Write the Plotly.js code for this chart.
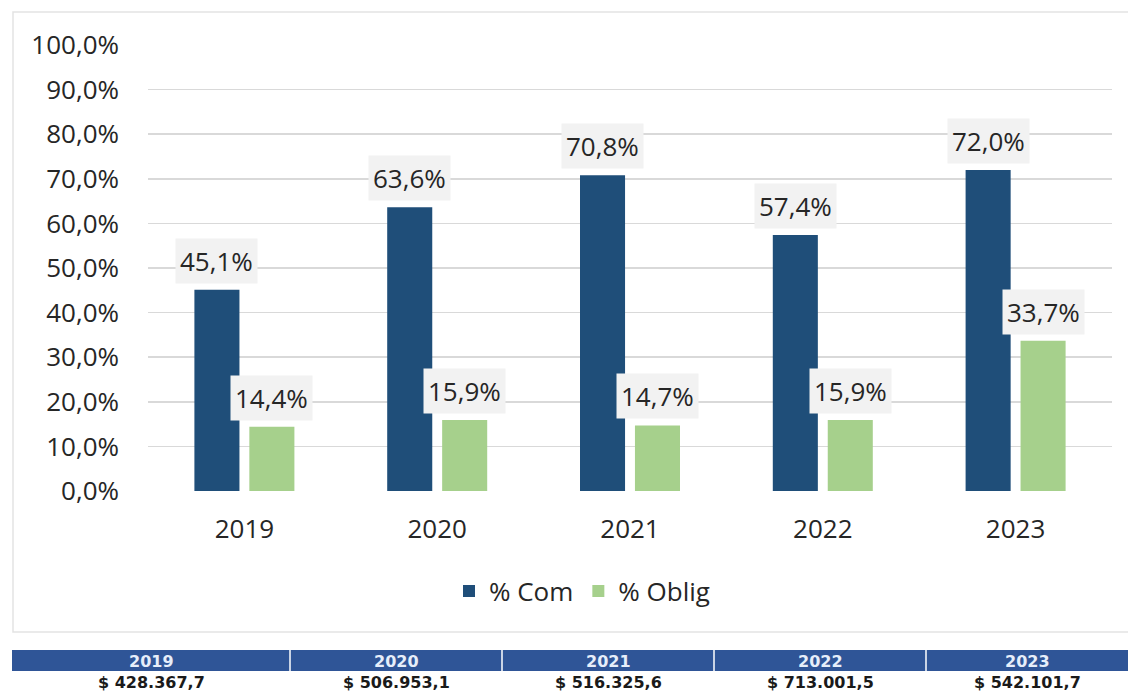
<!DOCTYPE html>
<html>
<head>
<meta charset="utf-8">
<script src="https://cdn.plot.ly/plotly-3.0.1.min.js"></script>
<style>html,body{margin:0;padding:0;background:#fff;}#chart{width:1128px;height:692px;}</style>
</head>
<body>
<div id="chart"></div>
<script>
const years = ['2019', '2020', '2021', '2022', '2023'];
const pctCom = [45.1, 63.6, 70.8, 57.4, 72.0];
const pctOblig = [14.4, 15.9, 14.7, 15.9, 33.7];
const seriesNames = ['% Com', '% Oblig'];
const amounts = ['$ 428.367,7', '$ 506.953,1', '$ 516.325,6', '$ 713.001,5', '$ 542.101,7'];
const yTickVals = [0, 10, 20, 30, 40, 50, 60, 70, 80, 90, 100];

const W = 1128, H = 692;
const fmt = v => v.toFixed(1).replace('.', ',') + '%';
const FONT = 'Open Sans, Noto Sans, sans-serif';
const TFONT = 'DejaVu Sans, Open Sans, sans-serif';
const px = x => x / W, py = y => 1 - y / H;

const traces = [
  { type: 'bar', name: seriesNames[0], x: years, y: pctCom,
    marker: { color: '#1F4E79' }, hoverinfo: 'skip' },
  { type: 'bar', name: seriesNames[1], x: years, y: pctOblig,
    marker: { color: '#A6D08C' }, hoverinfo: 'skip' }
];

const annotations = [];
years.forEach((yr, i) => {
  [[pctCom[i], -27.5], [pctOblig[i], 27.5]].forEach(([v, dx]) => {
    annotations.push({
      x: i, y: v, xref: 'x', yref: 'y', text: fmt(v), showarrow: false,
      xanchor: 'center', yanchor: 'middle',
      xshift: dx, yshift: 29, bgcolor: '#F2F2F2', borderpad: 4,
      font: { size: 26, color: '#262626', family: FONT }
    });
  });
});

// summary table under the chart
const colEdges = [12, 290, 502, 714, 926, 1128];
const shapes = [
  { type: 'rect', xref: 'paper', yref: 'paper', x0: px(13), x1: 1.01, y0: py(632), y1: py(12),
    line: { color: '#E3E3E3', width: 1.5 }, fillcolor: 'rgba(0,0,0,0)', layer: 'below' },
  { type: 'rect', xref: 'paper', yref: 'paper', x0: px(colEdges[0]), x1: 1, y0: py(671), y1: py(650),
    line: { width: 0 }, fillcolor: '#2F5597' }
];
for (let k = 1; k < colEdges.length - 1; k++) {
  shapes.push({ type: 'line', xref: 'paper', yref: 'paper', x0: px(colEdges[k]), x1: px(colEdges[k]),
    y0: py(671), y1: py(650), line: { color: '#ffffff', width: 1.5 } });
}
years.forEach((yr, i) => {
  const cx = px((colEdges[i] + colEdges[i + 1]) / 2);
  annotations.push({ x: cx, y: py(661), xref: 'paper', yref: 'paper', text: '<b>' + yr + '</b>',
    xanchor: 'center', yanchor: 'middle',
    showarrow: false, font: { size: 16, color: '#E6EEFA', family: TFONT } });
  annotations.push({ x: cx, y: py(682), xref: 'paper', yref: 'paper', text: '<b>' + amounts[i] + '</b>',
    xanchor: 'center', yanchor: 'middle',
    showarrow: false, font: { size: 16, color: '#1a1a1a', family: TFONT } });
});

const layout = {
  width: W, height: H,
  margin: { l: 0, r: 0, t: 0, b: 0 },
  paper_bgcolor: '#ffffff', plot_bgcolor: '#ffffff',
  barmode: 'group', bargap: 0.43, bargroupgap: 0.18,
  showlegend: true,
  legend: { orientation: 'h', x: px(582), xanchor: 'center', y: py(591), yanchor: 'middle',
    font: { size: 26, color: '#262626', family: FONT }, traceorder: 'normal' },
  xaxis: { domain: [px(148), px(1112)], type: 'category', range: [-0.5, 4.5], autorange: false,
    showgrid: false, zeroline: false, showline: false, ticks: '', ticklabelstandoff: 20,
    tickfont: { size: 26, color: '#262626', family: FONT } },
  yaxis: { domain: [py(491), py(45)], range: [0, 100], autorange: false, tickvals: yTickVals,
    ticktext: yTickVals.map(fmt), showgrid: true, gridcolor: '#D9D9D9', gridwidth: 1.5,
    zeroline: false, showline: false, ticks: '', ticklabelstandoff: 28,
    tickfont: { size: 26, color: '#262626', family: FONT } },
  shapes: shapes,
  annotations: annotations
};

Plotly.newPlot('chart', traces, layout, { displayModeBar: false, staticPlot: true });
</script>
</body>
</html>
